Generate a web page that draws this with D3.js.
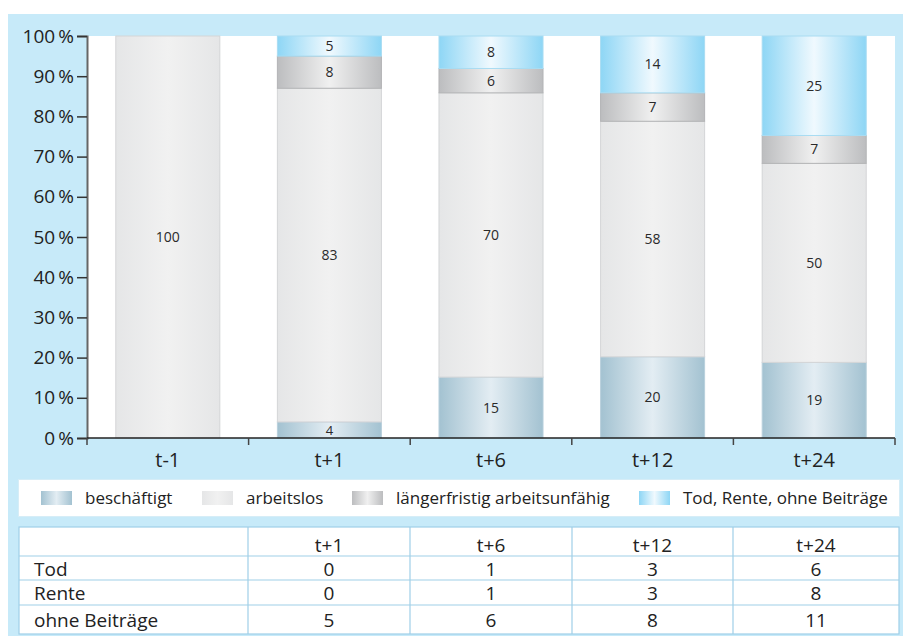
<!DOCTYPE html>
<html><head><meta charset="utf-8">
<script src="https://cdn.jsdelivr.net/npm/d3@7/dist/d3.min.js"></script>
<style>
html,body{margin:0;padding:0;background:#fff;}
svg{display:block;font-family:"Open Sans","Noto Sans",sans-serif;}
</style></head>
<body>
<svg id="chart" width="903" height="636"></svg>
<script>
const categories = ["t-1", "t+1", "t+6", "t+12", "t+24"];
const beschaeftigt = [0, 4, 15, 20, 19];
const arbeitslos = [100, 83, 70, 58, 50];
const arbeitsunfaehig = [0, 8, 6, 7, 7];
const todRente = [0, 5, 8, 14, 25];
const seriesNames = ["beschäftigt", "arbeitslos", "längerfristig arbeitsunfähig", "Tod, Rente, ohne Beiträge"];
const yTicks = [0, 0.1, 0.2, 0.3, 0.4, 0.5, 0.6, 0.7, 0.8, 0.9, 1.0];
const tableHeader = ["", "t+1", "t+6", "t+12", "t+24"];
const tableRowLabels = ["Tod", "Rente", "ohne Beiträge"];
const tod = [0, 1, 3, 6];
const rente = [0, 1, 3, 8];
const ohneBeitraege = [5, 6, 8, 11];

const svg = d3.select("#chart");
const defs = svg.append("defs");
const keys = ["b", "a", "l", "t"];
const grads = {
  b: ["#a3c2d1", "#e3edf3"],
  a: ["#e5e6e7", "#f1f1f1"],
  l: ["#bcbdbf", "#f0f0f0"],
  t: ["#8ed6f5", "#f0f9fe"]
};
const strokes = {b: "#b9d0dc", a: "#d4d5d7", l: "#b3b4b6", t: "#a9dcf2"};
keys.forEach(k => {
  const g = defs.append("linearGradient").attr("id", "g" + k)
    .attr("x1", "0%").attr("x2", "100%").attr("y1", "0%").attr("y2", "0%");
  g.append("stop").attr("offset", "0%").attr("stop-color", grads[k][0]);
  g.append("stop").attr("offset", "50%").attr("stop-color", grads[k][1]);
  g.append("stop").attr("offset", "100%").attr("stop-color", grads[k][0]);
});

// background
svg.append("rect").attr("x", 8).attr("y", 14).attr("width", 895).attr("height", 622).attr("fill", "#c7eaf9");

const pL = 87, pR = 895, pT = 36, pB = 438;
svg.append("rect").attr("x", pL).attr("y", pT).attr("width", pR - pL).attr("height", pB - pT).attr("fill", "#fff");

const data = categories.map((c, i) => ({cat: c, b: beschaeftigt[i], a: arbeitslos[i], l: arbeitsunfaehig[i], t: todRente[i]}));
const stack = d3.stack().keys(keys).offset(d3.stackOffsetExpand);
const series = stack(data);

const x = d3.scaleBand().domain(categories).range([pL, pR]).paddingInner(0.35).paddingOuter(0.175);
const y = d3.scaleLinear().domain([0, 1]).range([pB, pT]);

const barG = svg.append("g");
series.forEach(s => {
  const k = s.key;
  s.forEach(d => {
    const v = d.data[k];
    if (!v) return;
    barG.append("rect")
      .attr("x", x(d.data.cat) + 0.5)
      .attr("y", y(d[1]))
      .attr("width", x.bandwidth() - 1)
      .attr("height", y(d[0]) - y(d[1]))
      .attr("fill", "url(#g" + k + ")")
      .attr("stroke", strokes[k]).attr("stroke-width", 1);
  });
});
series.forEach(s => {
  const k = s.key;
  s.forEach(d => {
    const v = d.data[k];
    if (!v) return;
    const h = y(d[0]) - y(d[1]);
    barG.append("text")
      .attr("x", x(d.data.cat) + x.bandwidth() / 2)
      .attr("y", (y(d[0]) + y(d[1])) / 2)
      .attr("dy", "0.36em")
      .attr("text-anchor", "middle")
      .attr("font-size", h < 18 ? 13 : 14)
      .attr("fill", "#2a2a2a")
      .text(v);
  });
});

// y axis
const yAxis = d3.axisLeft(y).tickValues(yTicks).tickSize(10).tickPadding(3)
  .tickFormat(d => Math.round(d * 100) + "\u2009%");
const yg = svg.append("g").attr("transform", `translate(${pL},0)`).call(yAxis);
yg.select(".domain").attr("stroke", "#666").attr("stroke-width", 2);
yg.selectAll(".tick line").attr("stroke", "#333").attr("stroke-width", 1.5);
yg.selectAll(".tick text").attr("font-size", 19).attr("fill", "#222").attr("font-family", "Open Sans");

// x axis
const xg = svg.append("g").attr("transform", `translate(0,${pB})`);
xg.append("line").attr("x1", pL).attr("x2", pR).attr("y1", 0).attr("y2", 0).attr("stroke", "#222").attr("stroke-width", 1.5);
const bounds = categories.map((c, i) => x(c) - x.step() * x.paddingInner() / 2);
bounds.push(pR);
xg.selectAll(".xt").data(bounds).enter().append("line")
  .attr("x1", d => d).attr("x2", d => d).attr("y1", 0).attr("y2", 7)
  .attr("stroke", "#444").attr("stroke-width", 1.5);
xg.selectAll(".xl").data(categories).enter().append("text")
  .attr("x", d => x(d) + x.bandwidth() / 2).attr("y", 29)
  .attr("text-anchor", "middle").attr("font-size", 20).attr("fill", "#222")
  .text(d => d);

// legend
svg.append("rect").attr("x", 18.5).attr("y", 479.5).attr("width", 881).attr("height", 37)
  .attr("fill", "#fff").attr("stroke", "#d6edf7").attr("stroke-width", 1);
const legX = [41, 202, 352, 639];
seriesNames.forEach((n, i) => {
  svg.append("rect").attr("x", legX[i]).attr("y", 491).attr("width", 31).attr("height", 14)
    .attr("fill", "url(#g" + keys[i] + ")");
  svg.append("text").attr("x", legX[i] + 44).attr("y", 498).attr("dy", "0.35em")
    .attr("font-size", 17).attr("fill", "#222").text(n);
});

// table
const colX = [19, 248, 410, 572, 733, 899];
const rowY = [527, 556, 580, 605, 634];
const tg = svg.append("g");
tg.append("rect").attr("x", colX[0]).attr("y", rowY[0]).attr("width", colX[5] - colX[0]).attr("height", rowY[4] - rowY[0])
  .attr("fill", "#fff").attr("stroke", "#9fcfe8").attr("stroke-width", 1.2);
colX.slice(1, 5).forEach(cx => tg.append("line").attr("x1", cx).attr("x2", cx).attr("y1", rowY[0]).attr("y2", rowY[4]).attr("stroke", "#9fcfe8").attr("stroke-width", 1.2));
rowY.slice(1, 4).forEach(ry => tg.append("line").attr("x1", colX[0]).attr("x2", colX[5]).attr("y1", ry).attr("y2", ry).attr("stroke", "#9fcfe8").attr("stroke-width", 1.2));
const rows = [tod, rente, ohneBeitraege];
tableHeader.forEach((h, j) => {
  if (!h) return;
  tg.append("text").attr("x", (colX[j] + colX[j + 1]) / 2).attr("y", (rowY[0] + rowY[1]) / 2 + 4).attr("dy", "0.35em")
    .attr("text-anchor", "middle").attr("font-size", 19).attr("fill", "#222").text(h);
});
tableRowLabels.forEach((lab, i) => {
  const cy = (rowY[i + 1] + rowY[i + 2]) / 2 + 1;
  tg.append("text").attr("x", 34).attr("y", cy).attr("dy", "0.35em").attr("font-size", 19).attr("fill", "#222").text(lab);
  rows[i].forEach((v, j) => {
    tg.append("text").attr("x", (colX[j + 1] + colX[j + 2]) / 2).attr("y", cy).attr("dy", "0.35em")
      .attr("text-anchor", "middle").attr("font-size", 19).attr("fill", "#222").text(v);
  });
});
</script>
</body></html>
